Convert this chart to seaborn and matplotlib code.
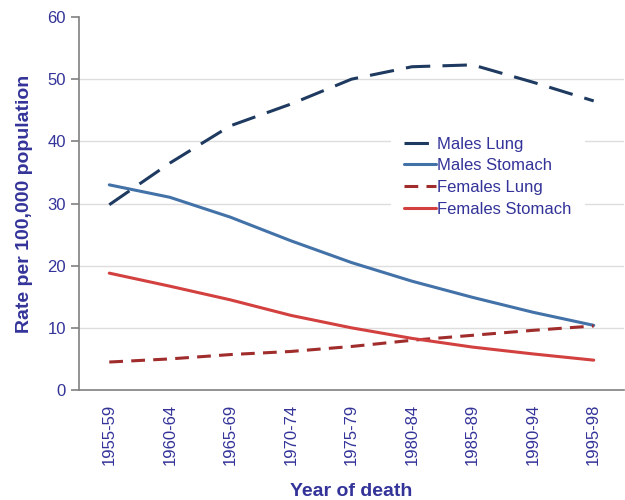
import pandas as pd
import seaborn as sns
import matplotlib.pyplot as plt

# Data
periods = ['1955-59', '1960-64', '1965-69', '1970-74', '1975-79',
           '1980-84', '1985-89', '1990-94', '1995-98']
males_lung = [29.8, 36.5, 42.5, 46.0, 50.0, 52.0, 52.3, 49.5, 46.5]
males_stomach = [33.0, 31.0, 27.8, 24.0, 20.5, 17.5, 14.9, 12.5, 10.4]
females_lung = [4.5, 5.0, 5.7, 6.2, 7.0, 8.0, 8.8, 9.6, 10.3]
females_stomach = [18.8, 16.7, 14.5, 12.0, 10.0, 8.3, 6.9, 5.8, 4.8]

series_names = ['Males Lung', 'Males Stomach', 'Females Lung', 'Females Stomach']

df = pd.DataFrame({
    'Period': periods * 4,
    'Rate': males_lung + males_stomach + females_lung + females_stomach,
    'Series': [s for s in series_names for _ in periods],
})

text_color = '#333399'
palette = {
    'Males Lung': '#1f3a60',
    'Males Stomach': '#4372a8',
    'Females Lung': '#a02c2c',
    'Females Stomach': '#d2413f',
}
dashes = {
    'Males Lung': (8, 4),
    'Males Stomach': '',
    'Females Lung': (4.5, 2.7),
    'Females Stomach': '',
}

sns.set_style('white')
plt.rcParams['font.family'] = ['Liberation Sans', 'DejaVu Sans']

fig = plt.figure(figsize=(6.25, 5), dpi=100)
ax = fig.add_axes([0.1264, 0.22, 0.872, 0.746])

sns.lineplot(data=df, x='Period', y='Rate', hue='Series', style='Series',
             palette=palette, dashes=dashes, hue_order=series_names,
             style_order=series_names, linewidth=2.2, ax=ax, sort=False)

# axes styling
ax.set_xlim(-0.5, len(periods) - 0.5)
ax.set_ylim(0, 60)
ax.set_yticks(range(0, 61, 10))
ax.yaxis.grid(True, color='#dddddd', linewidth=1)
for val, gl in zip(range(0, 61, 10), ax.get_ygridlines()):
    if val in (0, 60):
        gl.set_visible(False)

ax.set_xticks(range(len(periods)))
ax.set_xticklabels(periods, rotation=90)
ax.set_xticks([i - 0.5 for i in range(len(periods) + 1)], minor=True)
ax.tick_params(axis='x', which='major', length=0, pad=10, labelsize=12, labelcolor=text_color)
ax.tick_params(axis='x', which='minor', length=5, width=1.2, color='#808080', direction='out')
ax.tick_params(axis='y', length=6, width=1.2, color='#808080', direction='out',
               labelsize=12, labelcolor=text_color, left=True)

for side in ['top', 'right']:
    ax.spines[side].set_visible(False)
for side in ['left', 'bottom']:
    ax.spines[side].set_color('#808080')
    ax.spines[side].set_linewidth(1.2)

ax.set_xlabel('Year of death', fontsize=14, fontweight='bold', color=text_color, labelpad=13)
ax.set_ylabel('Rate per 100,000 population', fontsize=14, fontweight='bold',
              color=text_color, labelpad=10)

handles, labels = ax.get_legend_handles_labels()
leg = ax.legend(handles, labels, loc='center', bbox_to_anchor=(0.75, 0.572),
                fontsize=12, frameon=True, facecolor='white', edgecolor='none',
                framealpha=1, handlelength=1.9, handletextpad=0.1, labelspacing=0.4,
                borderpad=0.8)
for t in leg.get_texts():
    t.set_color(text_color)

plt.savefig('out.png', dpi=100)
